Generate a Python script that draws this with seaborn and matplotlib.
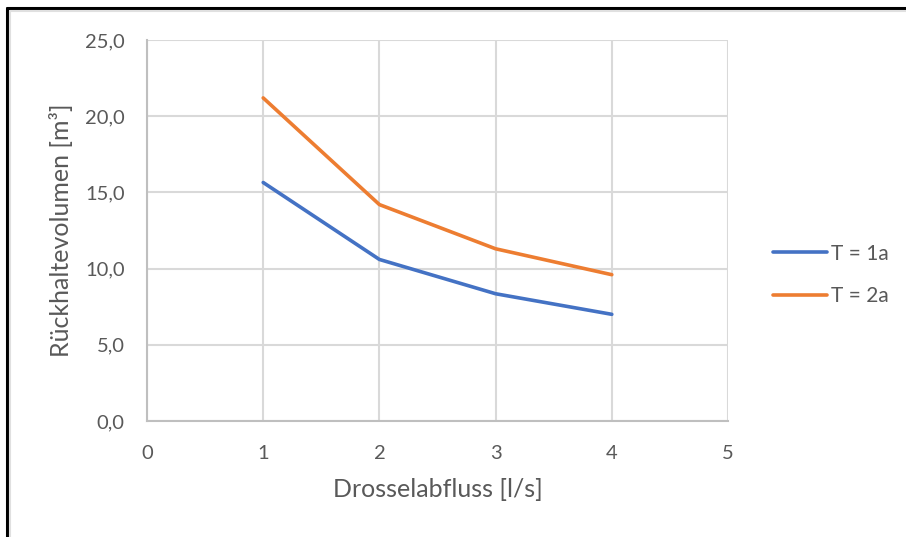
import matplotlib
matplotlib.use("Agg")
import matplotlib.pyplot as plt
import seaborn as sns
import pandas as pd
from matplotlib.ticker import FuncFormatter, MultipleLocator
from matplotlib.lines import Line2D

drossel = [1, 2, 3, 4]
t1a = [15.65, 10.6, 8.35, 7.0]
t2a = [21.2, 14.2, 11.3, 9.6]
series_names = ["T = 1a", "T = 2a"]
colors = ["#4472C4", "#ED7D31"]

df = pd.DataFrame({
    "x": drossel * 2,
    "y": t1a + t2a,
    "series": [series_names[0]] * 4 + [series_names[1]] * 4,
})

sns.set_theme(style="white")
plt.rcParams["font.family"] = ["Lato", "DejaVu Sans"]
txt = "#595959"

W, H = 906, 537
fig = plt.figure(figsize=(W / 100, H / 100), dpi=100)
ax = fig.add_axes([147 / W, 1 - 421 / H, (728 - 147) / W, (421 - 40) / H])

sns.lineplot(data=df, x="x", y="y", hue="series", palette=colors, linewidth=2.6,
             ax=ax, legend=False, sort=False)

ax.set_xlim(0, 5)
ax.set_ylim(0, 25)
ax.xaxis.set_major_locator(MultipleLocator(1))
ax.yaxis.set_major_locator(MultipleLocator(5))
ax.yaxis.set_major_formatter(FuncFormatter(lambda v, p: f"{v:.1f}".replace(".", ",")))
ax.grid(True, color="#d9d9d9", linewidth=1.5)
ax.set_axisbelow(True)
for s in ["top", "right"]:
    ax.spines[s].set_visible(False)
for s in ["left", "bottom"]:
    ax.spines[s].set_color("#bfbfbf")
    ax.spines[s].set_linewidth(1.5)
ax.tick_params(axis="both", length=0, labelsize=14.5, colors=txt)
ax.tick_params(axis="y", pad=16)
ax.tick_params(axis="x", pad=17)
ax.set_xlabel("Drosselabfluss [l/s]", fontsize=18, color=txt, labelpad=12)
ax.set_ylabel("Rückhaltevolumen [m³]", fontsize=18, color=txt, labelpad=9)

handles = [Line2D([0], [0], color=c, linewidth=2.6) for c in colors]
fig.legend(handles, series_names, loc="center left",
           bbox_to_anchor=(773 / W, 1 - 275 / H), frameon=False, borderpad=0,
           borderaxespad=0, fontsize=15, labelcolor=txt, handlelength=2.6,
           handletextpad=0.2, labelspacing=1.1)

# outer frame: black left and top, light grey inner line
tf = fig.transFigure
fig.add_artist(Line2D([7 / W, 7 / W], [0, 1 - 8 / H], color="black", linewidth=2.2, transform=tf))
fig.add_artist(Line2D([7 / W, 1], [1 - 8 / H, 1 - 8 / H], color="black", linewidth=2.2, transform=tf))
fig.add_artist(Line2D([9.5 / W, 9.5 / W], [0, 1 - 10.5 / H], color="#e0e0e0", linewidth=1.5, transform=tf))
fig.add_artist(Line2D([9.5 / W, 1], [1 - 10.5 / H, 1 - 10.5 / H], color="#e0e0e0", linewidth=1.5, transform=tf))

fig.savefig("out.png", dpi=100)
